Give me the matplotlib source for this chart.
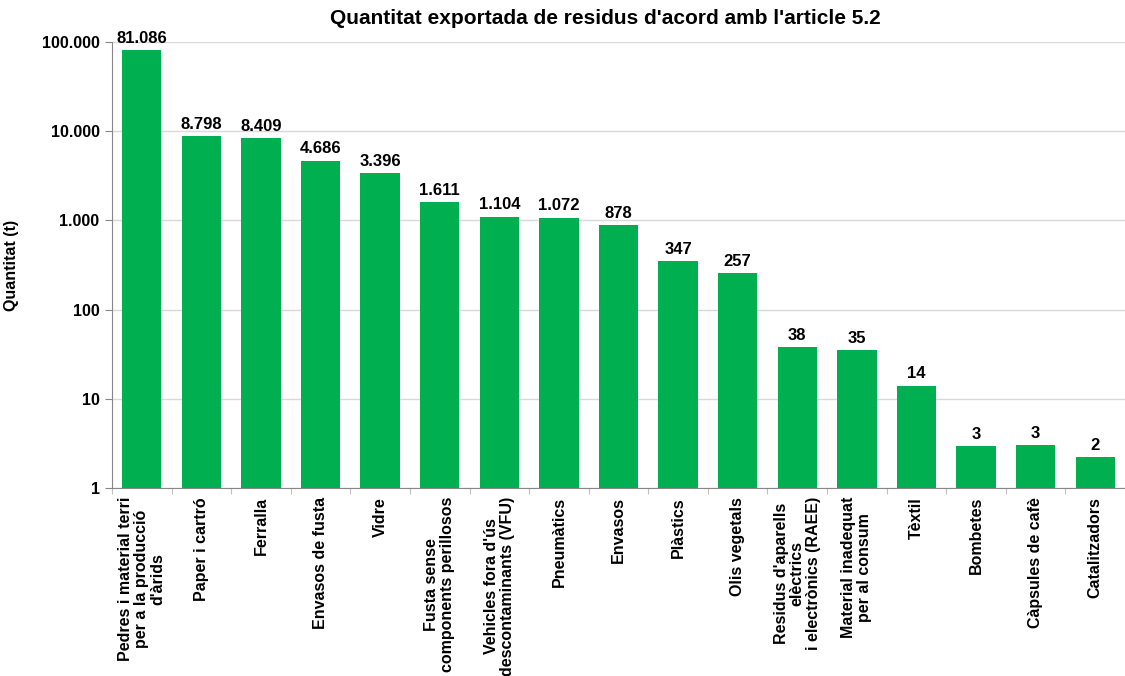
import matplotlib.pyplot as plt
from matplotlib.ticker import FixedLocator, NullLocator

plt.rcParams['font.family'] = ['Liberation Sans', 'DejaVu Sans']

categories = ["Pedres i material terri\nper a la producció\nd'àrids", "Paper i cartró", "Ferralla",
              "Envasos de fusta", "Vidre", "Fusta sense\ncomponents perillosos",
              "Vehicles fora d'ús\ndescontaminants (VFU)", "Pneumàtics", "Envasos", "Plàstics",
              "Olis vegetals", "Residus d'aparells\nelèctrics\ni electrònics (RAEE)",
              "Material inadequat\nper al consum", "Tèxtil", "Bombetes", "Càpsules de cafè",
              "Catalitzadors"]
values = [81086, 8798, 8409, 4686, 3396, 1611, 1104, 1072, 878, 347, 257, 38, 35, 14, 2.95, 3.0, 2.2]
ytick_vals = [1, 10, 100, 1000, 10000, 100000]


def fmt(v):
    return f"{v:,.0f}".replace(",", ".")


fig = plt.figure(figsize=(11.25, 6.76), dpi=100)
ax = fig.add_axes([112 / 1125, 1 - 488 / 676, 1013 / 1125, 446 / 676])

x = list(range(len(categories)))
ax.bar(x, values, width=0.66, color='#00b050', zorder=3)
ax.set_yscale('log')
ax.set_ylim(1, 100000)
ax.set_xlim(-0.5, len(categories) - 0.5)

for xi, v in zip(x, values):
    ax.text(xi, v * 1.12, fmt(v), ha='center', va='bottom', fontsize=12, fontweight='bold')

ax.yaxis.set_major_locator(FixedLocator(ytick_vals))
ax.yaxis.set_minor_locator(NullLocator())
ax.set_yticklabels([fmt(v) for v in ytick_vals], fontsize=11.5, fontweight='bold')
ax.grid(axis='y', color='#d9d9d9', linewidth=1, zorder=0)
ax.tick_params(axis='y', length=5, color='#868686', pad=4)

ax.set_xticks([i + 0.5 for i in x[:-1]] + [-0.5])
ax.set_xticklabels([])
ax.tick_params(axis='x', length=4, color='#bfbfbf', direction='out')
for xi, lab in zip(x, categories):
    ax.text(xi, -0.02, lab, rotation=90, ha='center', va='top', multialignment='center',
            fontsize=11.5, fontweight='bold', transform=ax.get_xaxis_transform(),
            linespacing=1.1)

for s in ['top', 'right']:
    ax.spines[s].set_visible(False)
ax.spines['left'].set_color('#868686')
ax.spines['bottom'].set_color('#868686')

ax.set_ylabel('Quantitat (t)', fontsize=11.5, fontweight='bold', labelpad=16)
fig.text(0.538, 1 - 19 / 676, "Quantitat exportada de residus d'acord amb l'article 5.2",
         ha='center', va='center', fontsize=15, fontweight='bold')

fig.savefig('out.png', dpi=100)
